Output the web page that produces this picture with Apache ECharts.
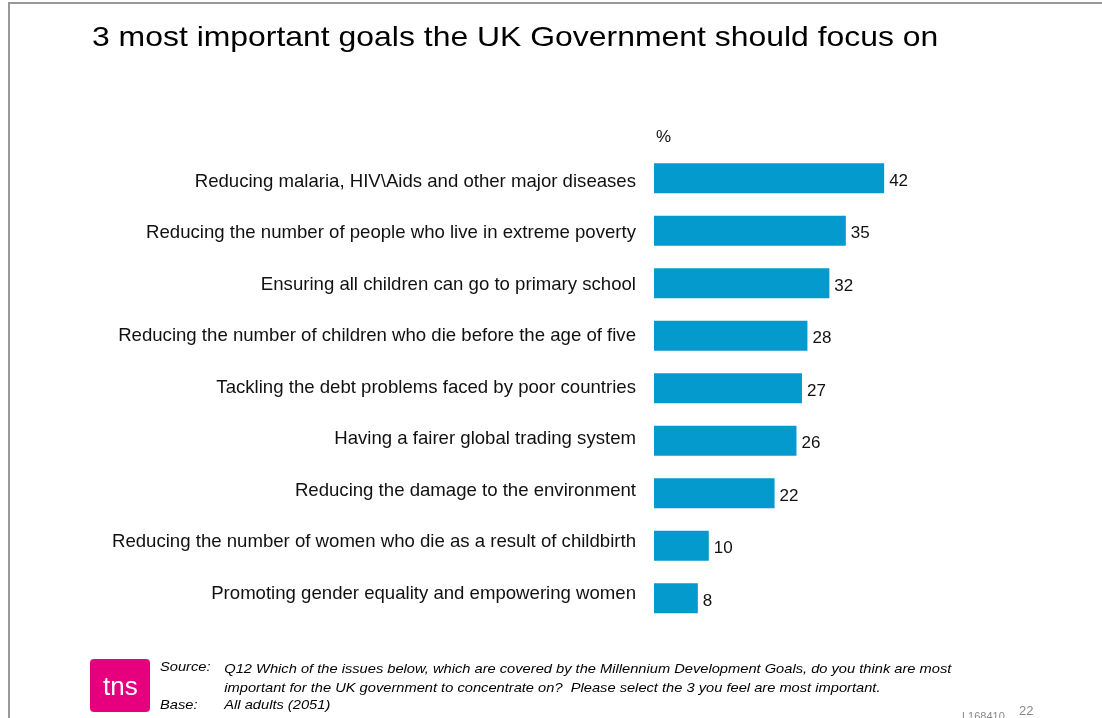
<!DOCTYPE html>
<html>
<head>
<meta charset="utf-8">
<script src="https://cdn.jsdelivr.net/npm/echarts@6/dist/echarts.min.js"></script>
<style>
  html, body { margin: 0; padding: 0; background: #fff; }
  #chart { width: 1102px; height: 718px; }
</style>
</head>
<body>
<div id="chart"></div>
<script>
// Goals ranked by share of adults choosing them among their top three
const categories = [
  'Reducing malaria, HIV\\Aids and other major diseases',
  'Reducing the number of people who live in extreme poverty',
  'Ensuring all children can go to primary school',
  'Reducing the number of children who die before the age of five',
  'Tackling the debt problems faced by poor countries',
  'Having a fairer global trading system',
  'Reducing the damage to the environment',
  'Reducing the number of women who die as a result of childbirth',
  'Promoting gender equality and empowering women'
];
const percentages = [42, 35, 32, 28, 27, 26, 22, 10, 8];

const titleText = '3 most important goals the UK Government should focus on';
const sourceText = 'Q12 Which of the issues below, which are covered by the Millennium Development Goals, do you think are most\nimportant for the UK government to concentrate on?  Please select the 3 you feel are most important.';
const baseText = 'All adults (2051)';

const FONT = 'Arial, "Liberation Sans", sans-serif';
const chart = echarts.init(document.getElementById('chart'));

// slide text is set slightly wide
const WIDE = 1.14;

chart.setOption({
  animation: false,
  backgroundColor: '#ffffff',
  grid: [
    // bars
    { left: 654, top: 152, width: 274, height: 472.5 },
    // row captions sit on a slightly tighter pitch than the bars
    { left: 654, top: 155.75, width: 274, height: 463.5 }
  ],
  xAxis: [
    { type: 'value', min: 0, max: 50, show: false, gridIndex: 0 },
    { type: 'value', min: 0, max: 50, show: false, gridIndex: 1 }
  ],
  yAxis: [
    {
      type: 'category', data: categories, inverse: true, gridIndex: 0,
      axisLine: { show: false }, axisTick: { show: false }, axisLabel: { show: false }
    },
    {
      type: 'category', data: categories, inverse: true, gridIndex: 1,
      axisLine: { show: false }, axisTick: { show: false },
      axisLabel: { margin: 18, color: '#111', fontSize: 18.6, fontFamily: FONT }
    }
  ],
  series: [{
    type: 'bar', data: percentages, barWidth: 30, xAxisIndex: 0, yAxisIndex: 0,
    itemStyle: { color: '#059ACD' },
    label: {
      show: true, position: 'right', distance: 5, offset: [0, 3],
      color: '#111', fontSize: 17, fontFamily: FONT
    }
  }],
  graphic: [
    // slide frame
    { type: 'line', shape: { x1: 8, y1: 3, x2: 1102, y2: 3 }, style: { stroke: '#999', lineWidth: 2 } },
    { type: 'line', shape: { x1: 9, y1: 3, x2: 9, y2: 718 }, style: { stroke: '#999', lineWidth: 2 } },
    { type: 'text', x: 92, y: 38, scaleX: WIDE, originX: 0, originY: 0,
      style: { text: titleText, fill: '#000', font: '28px ' + FONT, verticalAlign: 'middle' } },
    { type: 'text', x: 656, y: 137, style: { text: '%', fill: '#111', font: '17px ' + FONT, verticalAlign: 'middle' } },
    // logo
    { type: 'rect', shape: { x: 90, y: 659, width: 60, height: 53, r: 4 }, style: { fill: '#E6007E' } },
    { type: 'text', x: 103, y: 688, style: { text: 'tns', fill: '#fff', font: '26px ' + FONT, verticalAlign: 'middle' } },
    // notes
    { type: 'group', x: 160, y: 667, scaleX: 1.128, originX: 0, originY: 0, children: [
      { type: 'text', x: 0, y: 0, style: { text: 'Source:', fill: '#000', font: 'italic 13px ' + FONT, verticalAlign: 'middle' } },
      { type: 'text', x: 57, y: 0, style: { text: sourceText, fill: '#000', font: 'italic 13px ' + FONT, lineHeight: 19, verticalAlign: 'top', padding: [-7, 0, 0, 0] } },
      { type: 'text', x: 0, y: 38, style: { text: 'Base:', fill: '#000', font: 'italic 13px ' + FONT, verticalAlign: 'middle' } },
      { type: 'text', x: 57, y: 38, style: { text: baseText, fill: '#000', font: 'italic 13px ' + FONT, verticalAlign: 'middle' } }
    ] },
    { type: 'text', x: 962, y: 711, style: { text: 'L168410', fill: '#888', font: '11px ' + FONT } },
    { type: 'text', x: 1019, y: 705, style: { text: '22', fill: '#888', font: '13px ' + FONT } }
  ]
});
</script>
</body>
</html>
